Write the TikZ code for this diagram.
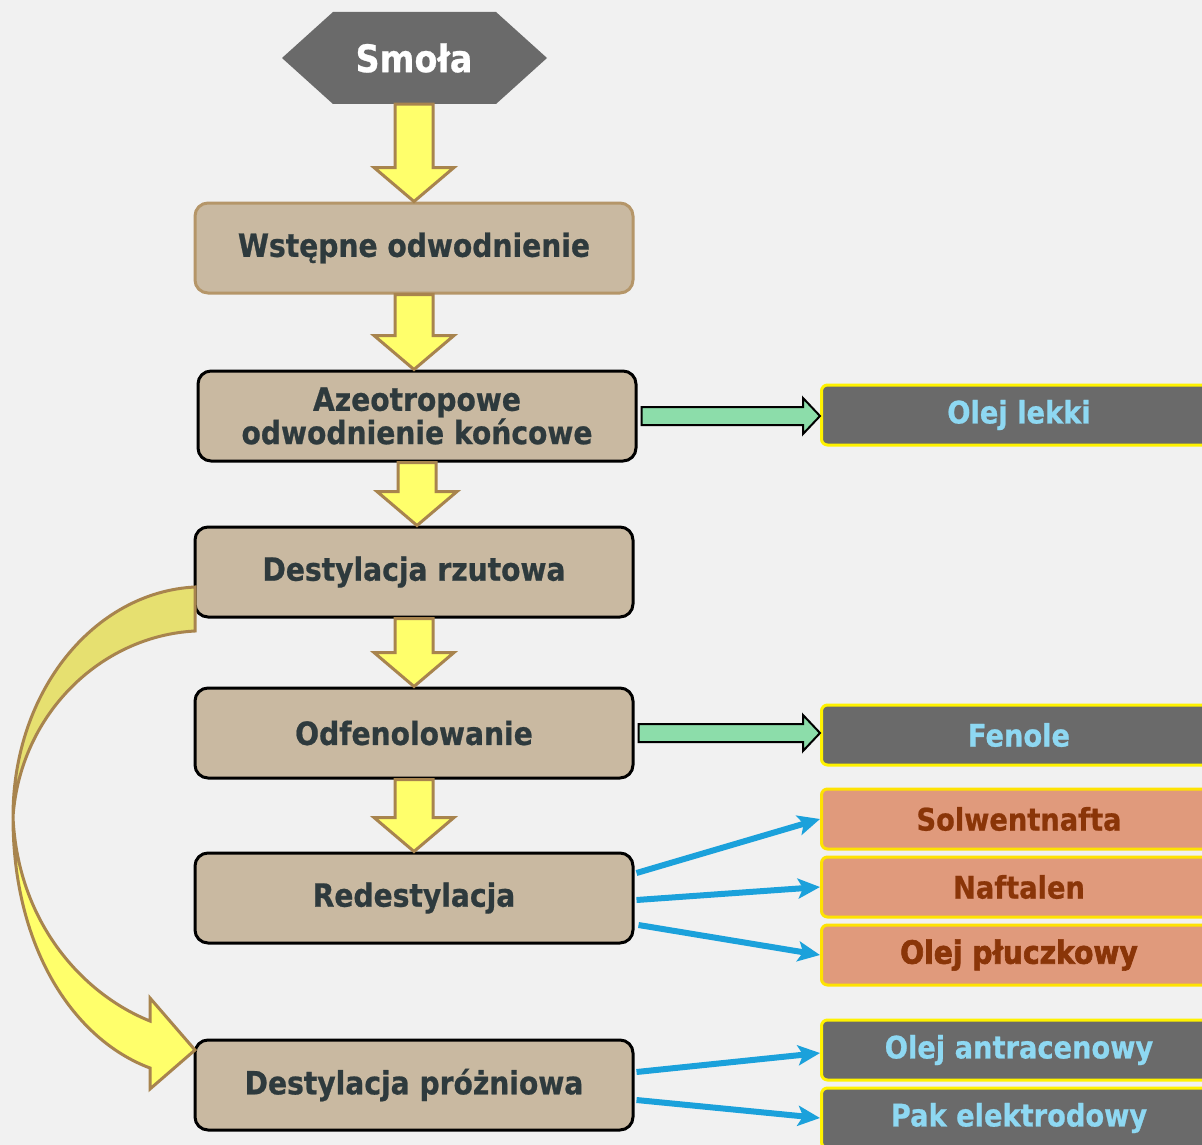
\documentclass[tikz,border=0pt]{standalone}
\usepackage{fontspec}
\setmainfont{DejaVu Sans}[FakeStretch=0.88, BoldFeatures={FakeBold=0.7}]
\newfontfamily\grubyfont{DejaVu Sans}[FakeStretch=0.88, BoldFeatures={FakeBold=2}]
\usetikzlibrary{arrows.meta}
\usetikzlibrary{calc}
\definecolor{tlo}{HTML}{F1F1F1}
\definecolor{szary}{HTML}{6A6A6A}
\definecolor{bez}{HTML}{C9B9A1}
\definecolor{braz}{HTML}{A8844E}
\definecolor{napis}{HTML}{2E3A3D}
\definecolor{zolty}{HTML}{FFFF6B}
\definecolor{ciemnyzolty}{HTML}{E6E070}
\definecolor{zielony}{HTML}{8CDDAA}
\definecolor{blekit}{HTML}{8ED8F2}
\definecolor{losos}{HTML}{E09A7C}
\definecolor{rdza}{HTML}{8A3508}
\definecolor{niebieski}{HTML}{1BA1DB}
\tikzset{
  etap/.style={draw=black, line width=3pt, rounded corners=13pt, fill=bez, text=napis, font=\fontsize{32}{29}\selectfont\bfseries, align=center, minimum width=438pt, minimum height=90pt},
  produkt/.style={draw=yellow, line width=3pt, rounded corners=6pt, fill=szary, text=blekit, font=\fontsize{31}{31}\selectfont\bfseries, minimum width=395pt, minimum height=60pt},
  frakcja/.style={produkt, fill=losos, draw=yellow!85!orange, text=rdza},
  wlew/.style={fill=zolty, draw=braz, line width=3pt},
  odbior/.style={fill=zielony, draw=black, line width=2pt},
  rozdzial/.style={draw=niebieski, line width=6pt, -{Stealth[length=22pt,width=20pt,inset=5pt]}},
}
% zolta strzalka blokowa w dol
\newcommand\spadek[2]{%
  \coordinate (d) at (#1.south |- #2.north);
  \draw[wlew] ($(#1.south)+(-19,0)$) -- ($(d)+(-19,-34)$) -- ($(d)+(-40,-34)$) -- (d)
    -- ($(d)+(40,-34)$) -- ($(d)+(19,-34)$) -- ($(#1.south)+(19,0)$) -- cycle;}
% zielona strzalka blokowa w prawo
\newcommand\odplyw[2]{%
  \coordinate (g) at (#2.west |- #1.east);
  \draw[odbior] ($(#1.east)+(4,-9)$) -- ($(g)+(-17,-9)$) -- ($(g)+(-17,-18)$) -- (g)
    -- ($(g)+(-17,18)$) -- ($(g)+(-17,9)$) -- ($(#1.east)+(4,9)$) -- cycle;}

\begin{document}
\begin{tikzpicture}[x=1pt, y=-1pt]
  \useasboundingbox (0,0) rectangle (1202,1145);
  \clip (0,0) rectangle (1202,1145);
  \fill[tlo] (0,0) rectangle (1202,1145);

  % szesciokat pod napisem
  \fill[szary] (282,58) -- (333,12) -- (496,12) -- (547,58) -- (496,104) -- (333,104) -- cycle;
  \node[minimum width=265pt, minimum height=92pt, inner sep=0pt, text=white,
    font=\fontsize{38}{38}\selectfont\bfseries] (smola) at (414,58) {Smoła};
  \node[etap, draw=braz!85] (wstep) at (414,248) {Wstępne odwodnienie};
  \node[etap] (azeo) at (417,416) {Azeotropowe\\odwodnienie końcowe};
  \node[etap] (rzut) at (414,572) {Destylacja rzutowa};
  \node[etap] (odfen) at (414,733) {Odfenolowanie};
  \node[etap] (redest) at (414,898) {Redestylacja};
  \node[etap] (proz) at (414,1085) {Destylacja próżniowa};

  \node[produkt] (lekki) at (1019,415) {Olej lekki};
  \node[produkt] (fenole) at (1019,735) {Fenole};
  \node[frakcja] (solw) at (1019,819) {Solwentnafta};
  \node[frakcja] (naft) at (1019,887) {Naftalen};
  \node[frakcja, font=\fontsize{32}{32}\selectfont\grubyfont\bfseries] (pluc) at (1019,955) {Olej płuczkowy};
  \node[produkt] (antr) at (1019,1050) {Olej antracenowy};
  \node[produkt] (pak) at (1019,1118) {Pak elektrodowy};

  \spadek{smola}{wstep}
  \spadek{wstep}{azeo}
  \spadek{azeo}{rzut}
  \spadek{rzut}{odfen}
  \spadek{odfen}{redest}

  \odplyw{azeo}{lekki}
  \odplyw{odfen}{fenole}

  % obejscie: z destylacji rzutowej do prozniowej
  \draw[wlew, fill=ciemnyzolty] (195,587) .. controls (95,592) and (13,690) .. (13,817)
    .. controls (20,715) and (100,636) .. (195,631) -- cycle;
  \draw[wlew] (13,817) .. controls (13,950) and (75,1040) .. (150,1068) -- (150,1089) -- (195,1050)
    -- (150,998) -- (150,1021) .. controls (85,995) and (18,925) .. (13,817) -- cycle;

  \draw[rozdzial] ($(redest.east)+(2,-25)$) -- (solw.west);
  \draw[rozdzial] ($(redest.east)+(2,2)$) -- (naft.west);
  \draw[rozdzial] ($(redest.east)+(4,27)$) -- (pluc.west);
  \draw[rozdzial] ($(proz.east)+(2,-13)$) -- ($(antr.west)+(0,3)$);
  \draw[rozdzial] ($(proz.east)+(2,15)$) -- (pak.west);
\end{tikzpicture}
\end{document}
